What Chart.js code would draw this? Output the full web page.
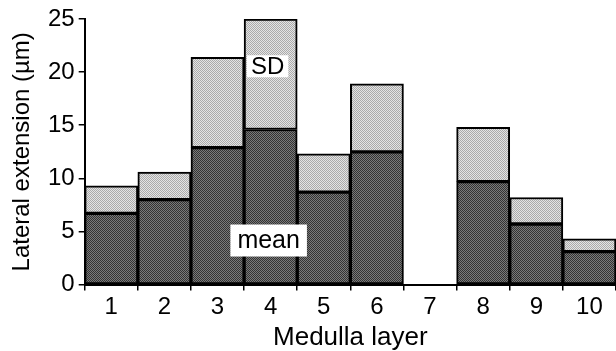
<!DOCTYPE html>
<html>
<head>
<meta charset="utf-8">
<script src="https://cdn.jsdelivr.net/npm/chart.js@4/dist/chart.umd.min.js"></script>
<style>
  html, body { margin: 0; padding: 0; background: #fff; }
  #wrap { width: 616px; height: 351px; }
</style>
</head>
<body>
<div id="wrap"><canvas id="c" width="616" height="351"></canvas></div>
<script>
// ---- data ----
const layers = ['1', '2', '3', '4', '5', '6', '7', '8', '9', '10'];
const meanValues = [6.7, 8.0, 12.9, 14.6, 8.7, 12.5, null, 9.7, 5.7, 3.1];
const sdValues   = [2.6, 2.6, 8.5, 10.4, 3.6, 6.4, null, 5.1, 2.5, 1.2];
const yTicks = [0, 5, 10, 15, 20, 25];
const xTitle = 'Medulla layer';
const yTitle = 'Lateral extension (µm)';
const seriesNames = ['mean', 'SD'];

// in-plot labels (category index, value in µm)
const labelSD = { text: 'SD', cat: 3, value: 20.55 };
const labelMean = { text: 'mean', cat: 3, value: 4.15 };

function makePattern(a, b) {
  const p = document.createElement('canvas');
  p.width = 4; p.height = 4;
  const g = p.getContext('2d');
  for (let y = 0; y < 4; y++) {
    for (let x = 0; x < 4; x++) {
      g.fillStyle = ((x + y) % 2 === 0) ? a : b;
      g.fillRect(x, y, 1, 1);
    }
  }
  return g.createPattern(p, 'repeat');
}

const ctx = document.getElementById('c').getContext('2d');
const darkFill = makePattern('#333333', '#7a7a7a');
const lightFill = makePattern('#aaaaaa', '#e4e4e4');

const FONT = "'Liberation Sans', Arial, Helvetica, sans-serif";

const labelStyles = {
  SD: { size: 24, padX: 4, h: 22, dx: -3 },
  mean: { size: 25, padX: 7, h: 32, dx: -2 }
};

const labelPlugin = {
  id: 'boxLabels',
  afterDatasetsDraw(chart) {
    const c = chart.ctx;
    const xs = chart.scales.x, ys = chart.scales.y;
    [labelSD, labelMean].forEach(l => {
      const st = labelStyles[l.text];
      const x = xs.getPixelForValue(l.cat) + st.dx;
      const y = ys.getPixelForValue(l.value);
      c.save();
      c.font = st.size + 'px ' + FONT;
      c.textAlign = 'center';
      c.textBaseline = 'middle';
      const w = c.measureText(l.text).width + 2 * st.padX;
      c.fillStyle = '#fff';
      c.fillRect(x - w / 2, y - st.h / 2, w, st.h);
      c.fillStyle = '#000';
      c.fillText(l.text, x, y + 1);
      c.restore();
    });
  }
};

new Chart(ctx, {
  type: 'bar',
  data: {
    labels: layers,
    datasets: [
      {
        label: seriesNames[0],
        data: meanValues,
        backgroundColor: darkFill,
        borderColor: '#000',
        borderWidth: 2,
        borderSkipped: false,
        barPercentage: 1,
        categoryPercentage: 1
      },
      {
        label: seriesNames[1],
        data: sdValues,
        backgroundColor: lightFill,
        borderColor: '#000',
        borderWidth: 2,
        borderSkipped: false,
        barPercentage: 1,
        categoryPercentage: 1
      }
    ]
  },
  options: {
    responsive: false,
    animation: false,
    layout: { padding: { top: 19, right: 0, left: 10, bottom: 0 } },
    plugins: {
      legend: { display: false },
      tooltip: { enabled: false }
    },
    scales: {
      x: {
        stacked: true,
        border: { display: true, color: '#000', width: 2 },
        grid: { display: true, drawOnChartArea: false, drawTicks: true, tickLength: 6, color: '#000', lineWidth: 1.5, offset: true },
        ticks: { color: '#000', font: { family: FONT, size: 24, lineHeight: 0.85 }, padding: 7, maxRotation: 0, autoSkip: false },
        title: { display: true, text: xTitle, color: '#000', font: { family: FONT, size: 26, lineHeight: 1 }, padding: { top: 0, bottom: 0 } }
      },
      y: {
        stacked: true,
        min: 0,
        max: 25,
        afterBuildTicks(axis) { axis.ticks = yTicks.map(v => ({ value: v })); },
        border: { display: true, color: '#000', width: 2 },
        grid: { display: true, drawOnChartArea: false, drawTicks: true, tickLength: 6, color: '#000', lineWidth: 1.5 },
        ticks: { color: '#000', font: { family: FONT, size: 24, lineHeight: 1 }, padding: 4 },
        title: { display: true, text: yTitle, color: '#000', font: { family: FONT, size: 24, lineHeight: 1 }, padding: { top: 0, bottom: 10 } }
      }
    }
  },
  plugins: [labelPlugin]
});
</script>
</body>
</html>
